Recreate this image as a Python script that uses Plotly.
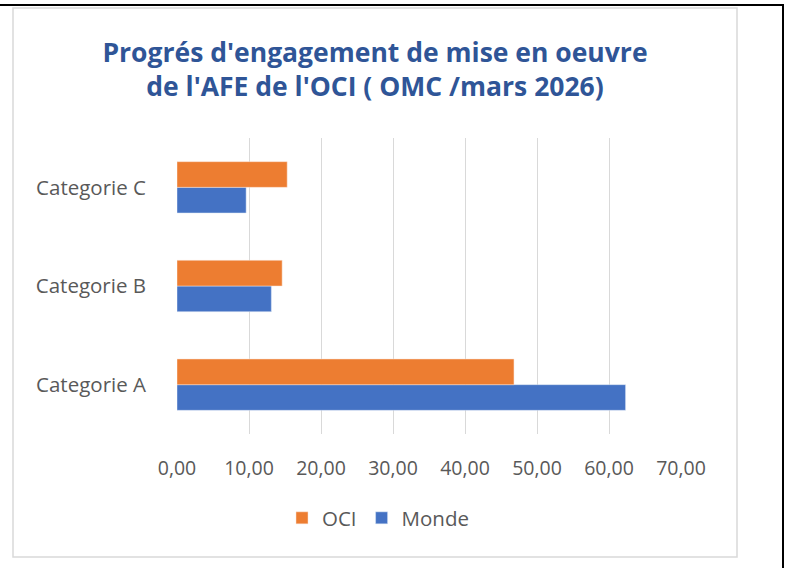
import plotly.graph_objects as go

categories = ["Categorie A", "Categorie B", "Categorie C"]
monde = [62.3, 13.1, 9.6]
oci = [46.8, 14.6, 15.3]
tick_vals = [0, 10, 20, 30, 40, 50, 60, 70]
tick_text = ["0,00", "10,00", "20,00", "30,00", "40,00", "50,00", "60,00", "70,00"]

W, H = 789, 568
L, R, T, B = 177, 108, 138, 134
pw, ph = W - L - R, H - T - B

def px(x):
    return (x - L) / pw

def py(y):
    return (H - B - y) / ph

FONT = "Open Sans"

fig = go.Figure()
fig.add_trace(go.Bar(y=categories, x=monde, name="Monde", orientation="h",
                     marker=dict(color="#4472C4", line=dict(color="#DCE6F5", width=0.5))))
fig.add_trace(go.Bar(y=categories, x=oci, name="OCI", orientation="h",
                     marker=dict(color="#ED7D31", line=dict(color="#FBE3D4", width=0.5))))

fig.update_layout(
    width=W, height=H,
    margin=dict(l=L, r=R, t=T, b=B),
    paper_bgcolor="white", plot_bgcolor="white",
    barmode="group", bargap=0.48, bargroupgap=0,
    font=dict(family=FONT, color="#595959", size=15),
    title=dict(
        text="Progrés d'engagement de mise en oeuvre<br>de l'AFE de l'OCI ( OMC /mars 2026)",
        x=375 / W, xanchor="center", y=1 - 62 / H, yanchor="middle",
        font=dict(family=FONT, size=26.5, color="#2F5597", weight="bold"),
    ),
    xaxis=dict(range=[0, 70], tickvals=tick_vals, ticktext=tick_text,
               showgrid=True, gridcolor="#D9D9D9", gridwidth=1,
               zeroline=False, showline=False, ticks="",
               ticklabelstandoff=20, tickfont=dict(size=19.5)),
    yaxis=dict(showgrid=False, showline=False, ticks="",
               ticklabelstandoff=30, tickfont=dict(size=20.5)),
    legend=dict(orientation="h", x=px(378), xanchor="center", y=py(518), yanchor="middle",
                traceorder="reversed", font=dict(size=20.5), itemwidth=30,
                bgcolor="rgba(0,0,0,0)"),
    showlegend=True,
)

shapes = [
    dict(type="rect", xref="paper", yref="paper", x0=px(13), x1=px(737), y0=py(557), y1=py(8),
         line=dict(color="#D9D9D9", width=1.5), layer="below"),
    dict(type="line", xref="paper", yref="paper", x0=px(0), x1=px(784), y0=py(5), y1=py(5),
         line=dict(color="black", width=2)),
    dict(type="line", xref="paper", yref="paper", x0=px(783), x1=px(783), y0=py(5), y1=py(568),
         line=dict(color="black", width=2)),
]
fig.update_layout(shapes=shapes)

fig.write_html("out.html", config={"displayModeBar": False},
               post_script="document.body.style.margin='0px';")
